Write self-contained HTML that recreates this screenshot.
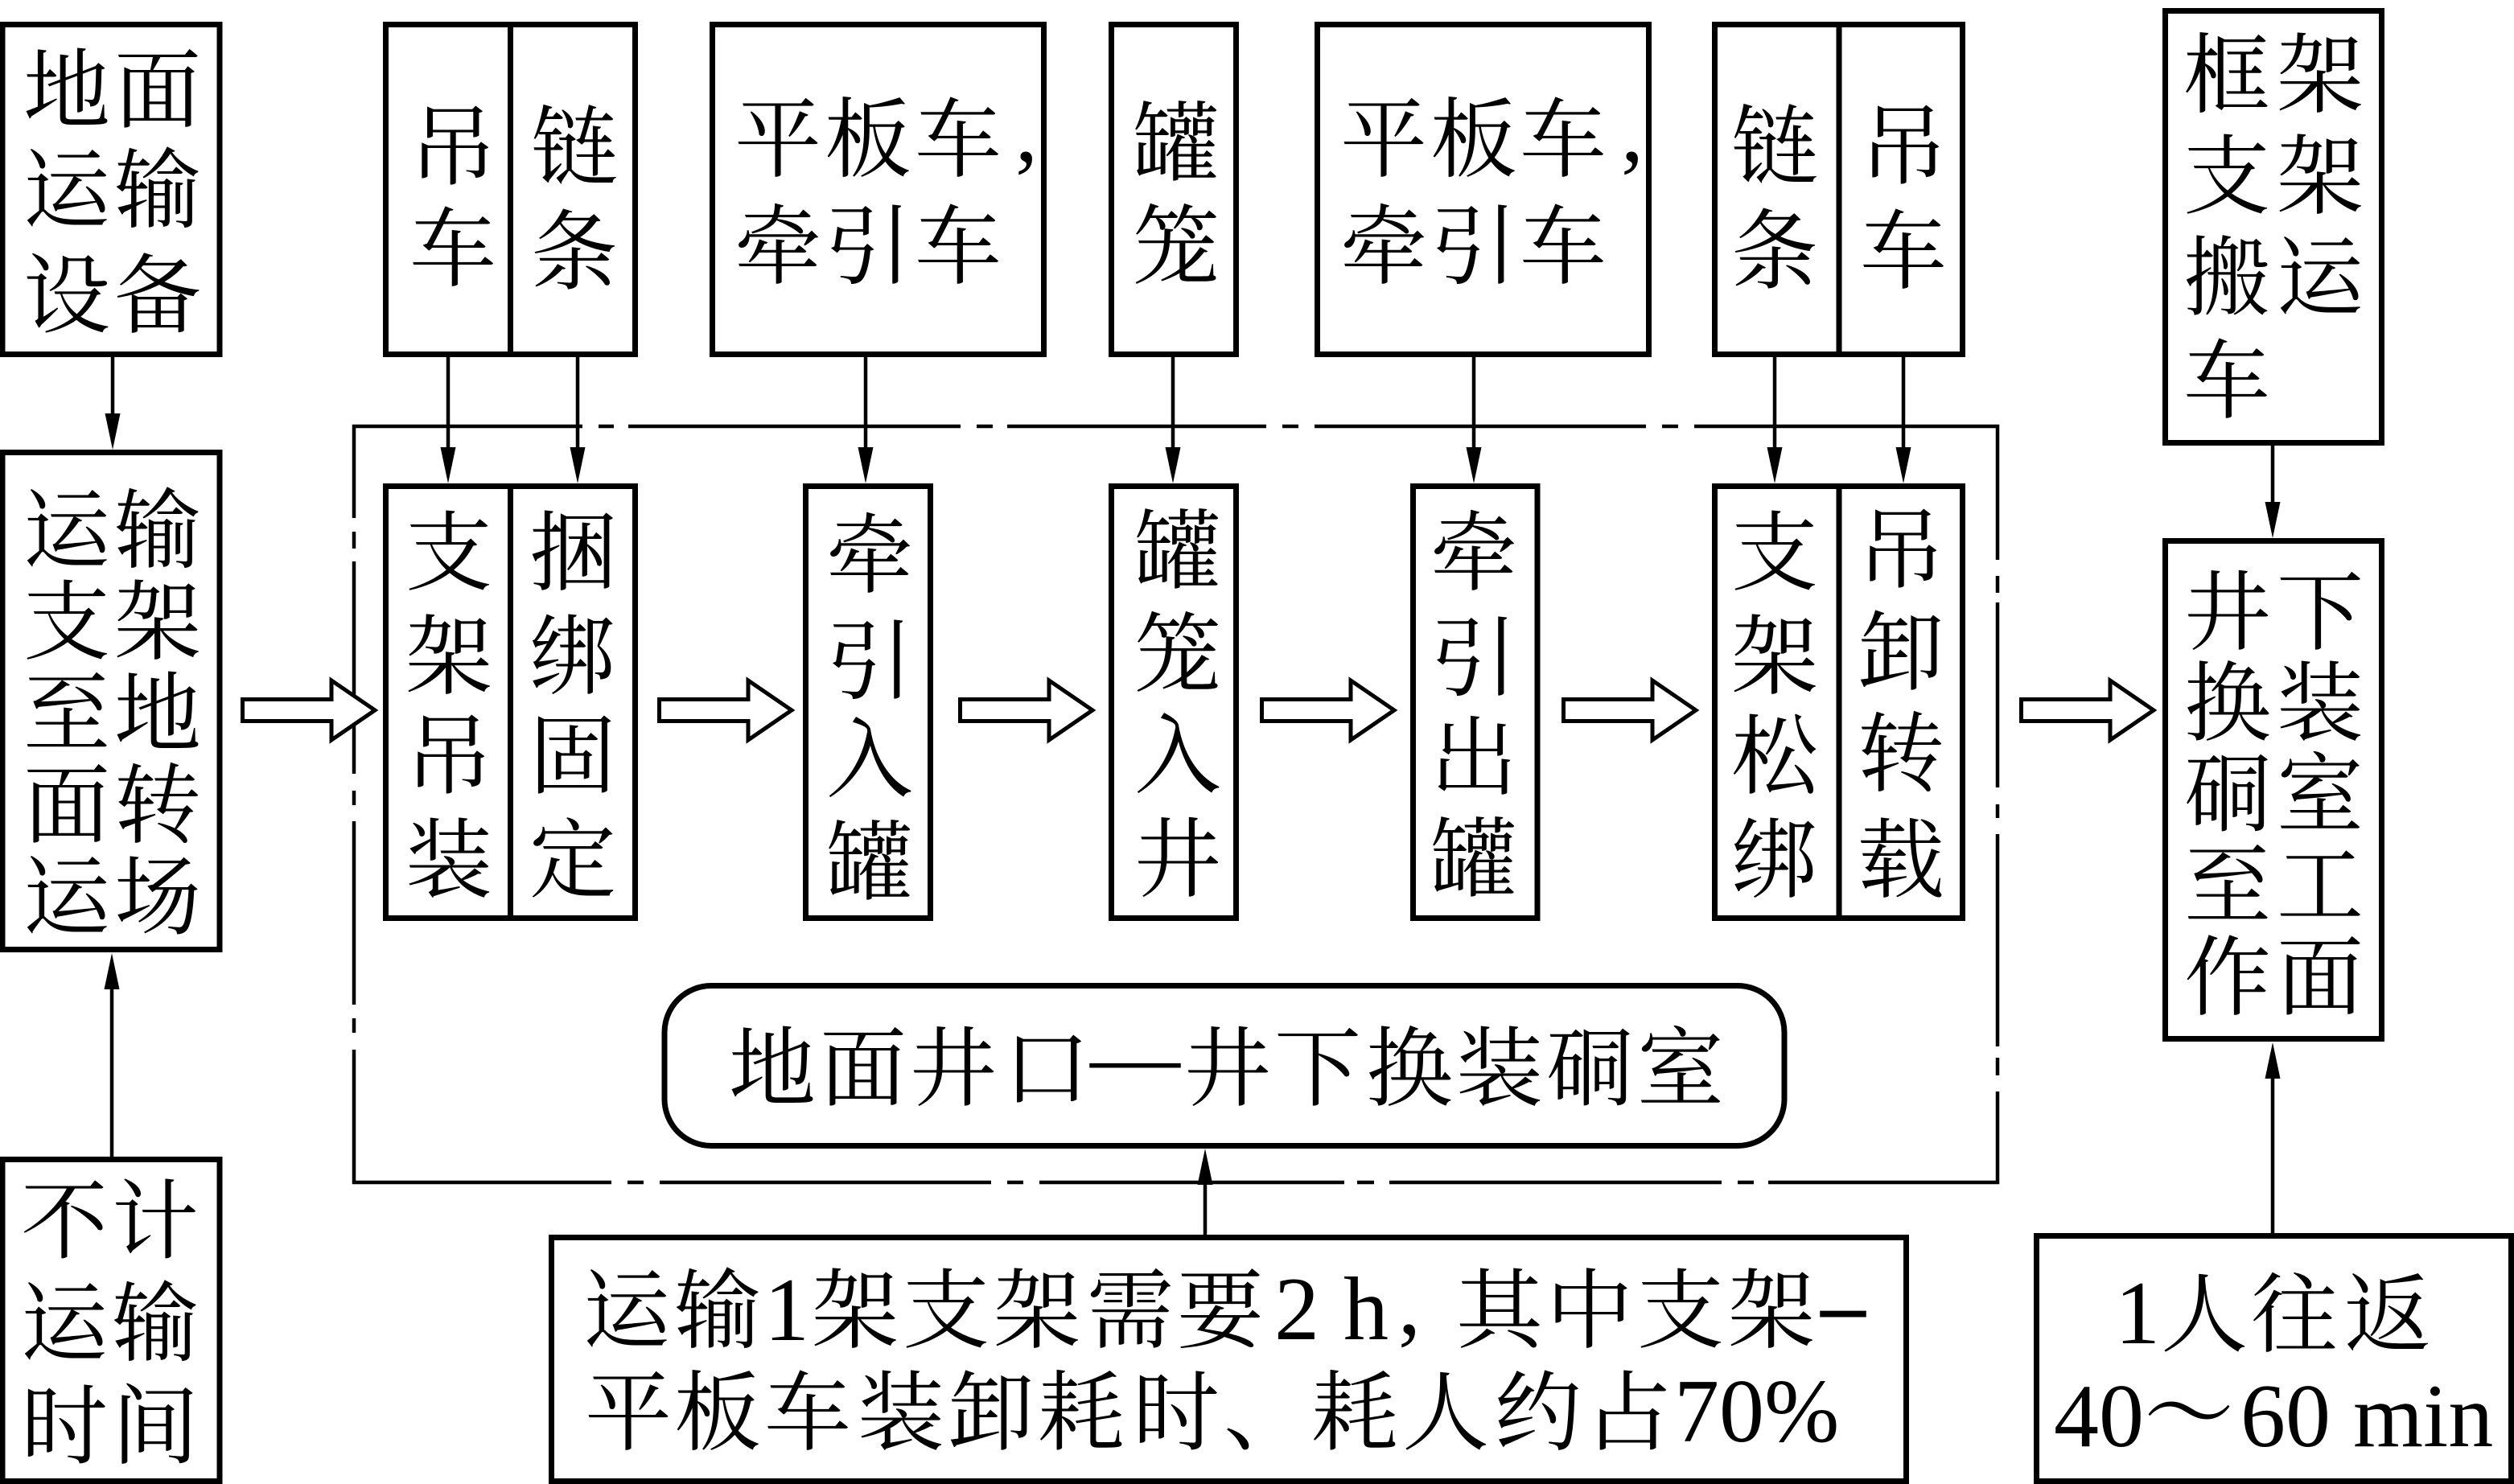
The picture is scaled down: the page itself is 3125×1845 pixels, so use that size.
<!DOCTYPE html>
<html lang="zh">
<head>
<meta charset="utf-8">
<title>支架运输流程</title>
<style>
html,body{margin:0;padding:0;background:#fff;width:3125px;height:1845px;overflow:hidden}
svg{display:block}
.z{font-family:"Noto Serif CJK SC",serif;font-size:108px;text-anchor:middle;fill:#000}
.l{font-family:"Liberation Serif",serif;font-size:112px;fill:#000}
.m{text-anchor:middle}
.b{fill:none;stroke:#000;stroke-width:7}
.f{fill:none;stroke:#000;stroke-width:4.5}
.a{stroke:#000;stroke-width:4.5;fill:none}
.h{fill:#000}
.w{fill:#fff;stroke:#000;stroke-width:5;stroke-linejoin:miter}
</style>
</head>
<body>
<svg xmlns="http://www.w3.org/2000/svg" width="3125" height="1845" viewBox="0 0 3125 1845">
<rect width="3125" height="1845" fill="#fff"/>

<!-- dash-dot frame -->
<path class="f" d="M724 530H440V644M440 661V682M440 698V962M440 983V1001M440 1021V1249M440 1266V1284M440 1305V1470H760M780 1470H800M820 1470H1232M1252 1470H1272M1292 1470H1671M1687 1470H1708M1727 1470H2140M2160 1470H2180M2198 1470H2483V1357M2483 1337V1315M2483 1301V1037M2483 1017V1000M2483 979V749M2483 737V716M2483 696V530H2106M2086 530H2066M2046 530H1634M1614 530H1594M1574 530H1252M1234 530H1214M1194 530H781M763 530H744"/>

<!-- boxes -->
<rect class="b" x="3" y="30.500" width="270" height="410"/>
<rect class="b" x="479.500" y="30.500" width="310" height="410"/>
<path class="b" d="M634.500 30V441"/>
<rect class="b" x="885.500" y="30.500" width="412" height="410"/>
<rect class="b" x="1381.500" y="30.500" width="155" height="410"/>
<rect class="b" x="1637.500" y="30.500" width="412" height="410"/>
<rect class="b" x="2131.500" y="30.500" width="308" height="410"/>
<path class="b" d="M2286 30V441"/>
<rect class="b" x="2691.500" y="13.500" width="269" height="537"/>
<rect class="b" x="3" y="562.500" width="270" height="618"/>
<rect class="b" x="3" y="1441.500" width="270" height="400"/>
<rect class="b" x="479.500" y="604.500" width="310" height="537"/>
<path class="b" d="M634.500 604V1141"/>
<rect class="b" x="1001.500" y="604.500" width="155" height="537"/>
<rect class="b" x="1381.500" y="604.500" width="155" height="537"/>
<rect class="b" x="1756.500" y="604.500" width="154.500" height="537"/>
<rect class="b" x="2131.500" y="604.500" width="308" height="537"/>
<path class="b" d="M2286 604V1141"/>
<rect class="b" x="2691.500" y="672.500" width="269" height="619"/>
<rect class="b" x="685.500" y="1538.500" width="1684" height="303"/>
<rect class="b" x="2531.500" y="1536.500" width="590" height="305"/>
<rect class="b" x="826" y="1225.500" width="1392" height="199" rx="58" ry="58"/>

<!-- thin arrows -->
<path class="a" d="M140 444V520M557 444V560M718 444V560M1076 444V560M1458 444V560M1832 444V560M2206 444V560M2366 444V560M2825 554V630M139 1438V1220M1498 1538V1470M2825 1535V1335"/>
<path class="h" d="M130.500 514H149.500L140 559ZM547.500 556H566.500L557 601ZM708.500 556H727.500L718 601ZM1066.500 556H1085.500L1076 601ZM1448.500 556H1467.500L1458 601ZM1822.500 556H1841.500L1832 601ZM2196.500 556H2215.500L2206 601ZM2356.500 556H2375.500L2366 601ZM2815.500 624H2834.500L2825 669ZM129.500 1230H148.500L139 1185ZM1488.500 1473H1507.500L1498 1428ZM2815.500 1341H2834.500L2825 1296Z"/>

<!-- hollow arrows -->
<path class="w" d="M301.500 869.500H412V846L466 883L412 920V896.500H301.500Z"/>
<path class="w" d="M819.500 869.500H930V846L984 883L930 920V896.500H819.500Z"/>
<path class="w" d="M1193.500 869.500H1304V846L1358 883L1304 920V896.500H1193.500Z"/>
<path class="w" d="M1568.500 869.500H1679V846L1733 883L1679 920V896.500H1568.500Z"/>
<path class="w" d="M1943.500 869.500H2054V846L2108 883L2054 920V896.500H1943.500Z"/>
<path class="w" d="M2512.500 869.500H2623V846L2677 883L2623 920V896.500H2512.500Z"/>

<!-- top row -->
<text class="z" x="83 196" y="150">地面</text>
<text class="z" x="83 196" y="274">运输</text>
<text class="z" x="83 196" y="405">设备</text>

<text class="z" x="563 563" y="221 347">吊车</text>
<text class="z" x="714 714" y="221 351">链条</text>
<text class="z" x="967 1079 1191" y="211">平板车</text>
<text class="l m" x="1276" y="200">,</text>
<text class="z" x="967 1079 1191" y="344">牵引车</text>
<text class="z" x="1462 1462" y="216 344">罐笼</text>
<text class="z" x="1720 1832 1943" y="211">平板车</text>
<text class="l m" x="2029" y="200">,</text>
<text class="z" x="1720 1832 1943" y="344">牵引车</text>
<text class="z" x="2206 2206" y="220 350">链条</text>
<text class="z" x="2366 2366" y="220 350">吊车</text>

<text class="z" x="2768 2884" y="131">框架</text>
<text class="z" x="2768 2884" y="257">支架</text>
<text class="z" x="2768 2884" y="383">搬运</text>
<text class="z" x="2768" y="511">车</text>

<!-- left column -->
<text class="z" x="83 196" y="697">运输</text>
<text class="z" x="83 196" y="811">支架</text>
<text class="z" x="83 196" y="925">至地</text>
<text class="z" x="83 196" y="1039">面转</text>
<text class="z" x="83 196" y="1153">运场</text>

<text class="z" x="80 193" y="1556">不计</text>
<text class="z" x="80 193" y="1683">运输</text>
<text class="z" x="80 193" y="1811">时间</text>

<!-- process row -->
<text class="z" x="558 558 558 558" y="725 854 978 1107">支架吊装</text>
<text class="z" x="712 712 712 712" y="725 854 978 1107">捆绑固定</text>
<text class="z" x="1081 1081 1081 1081" y="728 860 982 1110">牵引入罐</text>
<text class="z" x="1464 1464 1464 1464" y="723 851 977 1106">罐笼入井</text>
<text class="z" x="1832 1832 1832 1832" y="725 856 980 1106">牵引出罐</text>
<text class="z" x="2206 2206 2206 2206" y="725 854 978 1107">支架松绑</text>
<text class="z" x="2363 2363 2363 2363" y="722 849 975 1107">吊卸转载</text>

<!-- right column -->
<text class="z" x="2769 2884" y="799">井下</text>
<text class="z" x="2769 2884" y="912">换装</text>
<text class="z" x="2769 2884" y="1025">硐室</text>
<text class="z" x="2769 2884" y="1139">至工</text>
<text class="z" x="2769 2884" y="1253">作面</text>

<!-- rounded box -->
<text class="z" x="960 1073 1185 1301" y="1366">地面井口</text>
<text class="l m" x="1411" y="1351">—</text>
<text class="z" x="1526 1638 1752 1864 1976 2089" y="1366">井下换装硐室</text>

<!-- bottom box -->
<text class="z" x="779 892" y="1667">运输</text>
<text class="l m" x="978" y="1666">1</text>
<text class="z" x="1063 1176 1289 1405 1517" y="1667">架支架需要</text>
<text class="l m" x="1612" y="1665">2</text>
<text class="l m" x="1698" y="1665">h</text>
<text class="l m" x="1752" y="1658">,</text>
<text class="z" x="1864 1976 2089 2202" y="1667">其中支架</text>
<text class="l m" x="2291" y="1660" style="font-weight:bold">–</text>
<text class="z" x="781 892 1004 1120 1232 1344 1462 1575 1684 1797 1912 2024" y="1794">平板车装卸耗时、耗人约占</text>
<text class="l" x="2081" y="1792">70%</text>

<!-- bottom right -->
<text class="l m" x="2657" y="1670">1</text>
<text class="z" x="2740 2852 2968" y="1672">人往返</text>
<text class="l" x="2553" y="1798">40</text>
<text class="z" x="2721" y="1796" style="font-size:112px">～</text>
<text class="l" x="2785" y="1798">60</text>
<text class="l" x="2925" y="1798">min</text>
</svg>
</body>
</html>
